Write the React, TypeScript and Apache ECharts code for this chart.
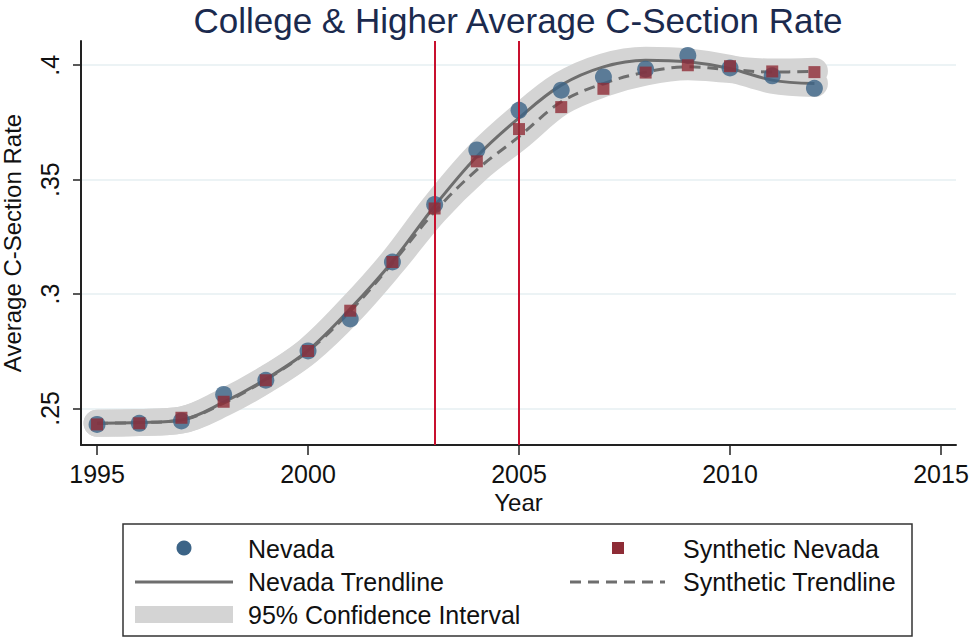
import React, { useEffect, useRef } from "react";
import * as echarts from "echarts";

const FONT = '"Liberation Sans", Arial, Helvetica, sans-serif';

const years = [1995, 1996, 1997, 1998, 1999, 2000, 2001, 2002, 2003, 2004, 2005, 2006, 2007, 2008, 2009, 2010, 2011, 2012];
const nevada = [0.243, 0.2435, 0.2445, 0.2561, 0.2623, 0.2751, 0.2891, 0.314, 0.3391, 0.363, 0.3803, 0.3891, 0.3949, 0.3983, 0.4043, 0.3988, 0.3954, 0.3899];
const syntheticNevada = [0.243, 0.2435, 0.2459, 0.2529, 0.2623, 0.2751, 0.2927, 0.314, 0.3374, 0.358, 0.3721, 0.3817, 0.3897, 0.3968, 0.4, 0.3996, 0.3973, 0.397];
const nevadaTrend = [0.2435, 0.2438, 0.2449, 0.2527, 0.2628, 0.2753, 0.2935, 0.3142, 0.3385, 0.3601, 0.377, 0.3913, 0.3993, 0.4022, 0.4015, 0.3986, 0.3935, 0.392];
const syntheticTrend = [0.2435, 0.2438, 0.2449, 0.2523, 0.2625, 0.275, 0.2925, 0.3135, 0.336, 0.3543, 0.3688, 0.384, 0.392, 0.397, 0.3993, 0.3981, 0.397, 0.3974];
const interventionYears = [2003, 2005];
const xTicks = [1995, 2000, 2005, 2010, 2015];
const yTicks = [0.25, 0.3, 0.35, 0.4];
const titleText = "College & Higher Average C-Section Rate";
const xName = "Year";
const yName = "Average C-Section Rate";
const legendNames = ["Nevada", "Synthetic Nevada", "Nevada Trendline", "Synthetic Trendline", "95% Confidence Interval"];

const BLUE = "#3c6487";
const RED = "#8e2c36";
const GRAY = "#6e6e6e";
const BAND = "#d4d4d4";
const CRIMSON = "#c8102e";

const pairs = (ys: number[]) => years.map((y, i) => [y, ys[i]]);

export default function App() {
  const ref = useRef<HTMLDivElement>(null);
  useEffect(() => {
    document.body.style.margin = "0";
    const chart = echarts.init(ref.current!, null, { renderer: "svg" });
    const bandLine = (data: number[]) => ({
      type: "line",
      data: pairs(data),
      smooth: 0.35,
      showSymbol: false,
      silent: true,
      z: 1,
      lineStyle: { width: 27, color: BAND, cap: "round", join: "round" },
    });
    const legendText = (text: string, x: number, y: number) => ({
      type: "text",
      x,
      y,
      style: { text, fontSize: 25, fontFamily: FONT, fill: "#111", verticalAlign: "middle", align: "left" },
    });
    const option: any = {
      animation: false,
      backgroundColor: "#ffffff",
      title: {
        text: titleText,
        left: 518,
        top: 2,
        padding: 0,
        textAlign: "center",
        textStyle: { fontSize: 35, fontWeight: "normal", color: "#1b2a4e", fontFamily: FONT, lineHeight: 37 },
      },
      grid: { left: 81, top: 41, width: 875, height: 404, containLabel: false, outerBoundsMode: "none" },
      xAxis: {
        type: "value",
        min: 1994.62,
        max: 2015.355,
        name: xName,
        nameLocation: "middle",
        nameGap: 37,
        nameTextStyle: { fontSize: 24, color: "#111", fontFamily: FONT },
        axisLine: { show: true, lineStyle: { color: "#222", width: 2 } },
        axisTick: { show: true, length: 10, customValues: xTicks, lineStyle: { color: "#222", width: 1.5 } },
        axisLabel: {
          customValues: xTicks,
          fontSize: 25,
          margin: 16,
          color: "#111",
          fontFamily: FONT,
          formatter: (v: number) => String(v),
        },
        splitLine: { show: false },
      },
      yAxis: {
        type: "value",
        min: 0.234,
        max: 0.4106,
        name: yName,
        nameLocation: "middle",
        nameGap: 57,
        nameTextStyle: { fontSize: 24, color: "#111", fontFamily: FONT },
        axisLine: { show: true, lineStyle: { color: "#222", width: 2 } },
        axisTick: { show: true, length: 8, customValues: yTicks, lineStyle: { color: "#222", width: 1.5 } },
        axisLabel: {
          customValues: yTicks,
          rotate: 90,
          fontSize: 25,
          margin: 19,
          color: "#111",
          fontFamily: FONT,
          formatter: (v: number) => String(v).replace(/^0\./, "."),
        },
        splitLine: { show: true, lineStyle: { color: "#e6eff2", width: 1.5 } },
      },
      series: [
        bandLine(nevadaTrend),
        bandLine(syntheticTrend),
        {
          type: "line",
          name: legendNames[2],
          data: pairs(nevadaTrend),
          smooth: 0.35,
          showSymbol: false,
          z: 3,
          lineStyle: { width: 3, color: GRAY },
          markLine: {
            silent: true,
            symbol: "none",
            label: { show: false },
            lineStyle: { color: CRIMSON, width: 2, type: "solid" },
            data: interventionYears.map((x) => ({ xAxis: x })),
          },
        },
        {
          type: "line",
          name: legendNames[3],
          data: pairs(syntheticTrend),
          smooth: 0.35,
          showSymbol: false,
          z: 3,
          lineStyle: { width: 3, color: GRAY, type: [11, 7] },
        },
        {
          type: "scatter",
          name: legendNames[0],
          data: pairs(nevada),
          symbol: "circle",
          symbolSize: 17,
          z: 4,
          itemStyle: { color: BLUE },
        },
        {
          type: "scatter",
          name: legendNames[1],
          data: pairs(syntheticNevada),
          symbol: "rect",
          symbolSize: 12,
          z: 5,
          itemStyle: { color: RED },
        },
      ],
      graphic: [
        {
          type: "rect",
          shape: { x: 123, y: 524, width: 789, height: 112 },
          style: { fill: "#fff", stroke: "#333", lineWidth: 1.5 },
        },
        { type: "circle", shape: { cx: 184, cy: 548, r: 7.5 }, style: { fill: BLUE } },
        legendText(legendNames[0], 248, 549),
        { type: "rect", shape: { x: 612, y: 542, width: 12, height: 12 }, style: { fill: RED } },
        legendText(legendNames[1], 683, 549),
        { type: "line", shape: { x1: 135, y1: 582, x2: 233, y2: 582 }, style: { stroke: GRAY, lineWidth: 3 } },
        legendText(legendNames[2], 248, 582),
        {
          type: "line",
          shape: { x1: 570, y1: 582, x2: 665, y2: 582 },
          style: { stroke: GRAY, lineWidth: 3, lineDash: [11, 7] },
        },
        legendText(legendNames[3], 683, 582),
        { type: "rect", shape: { x: 135, y: 606, width: 98, height: 17 }, style: { fill: BAND } },
        legendText(legendNames[4], 248, 615),
      ],
    };
    chart.setOption(option);
    return () => chart.dispose();
  }, []);
  return <div ref={ref} style={{ width: 972, height: 641, background: "#fff" }} />;
}
